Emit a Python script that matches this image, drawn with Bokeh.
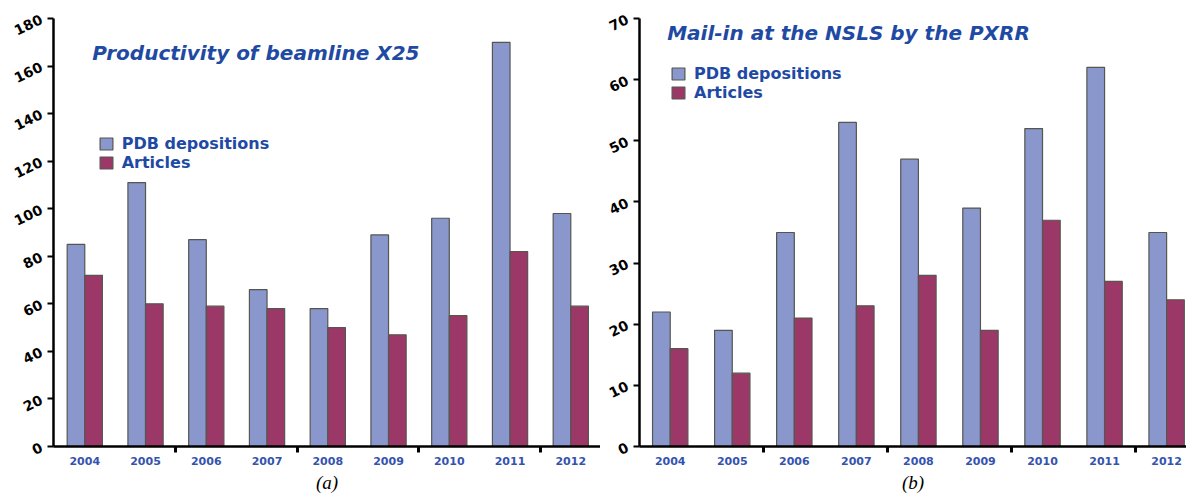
from bokeh.plotting import figure
from bokeh.models import Range1d, FixedTicker, Label, Legend, LegendItem, ColumnDataSource
from bokeh.layouts import row
from bokeh.embed import file_html
from bokeh.resources import INLINE

years = ["2004", "2005", "2006", "2007", "2008", "2009", "2010", "2011", "2012"]
x25_pdb = [85, 111, 87, 66, 58, 89, 96, 170, 98]
x25_articles = [72, 60, 59, 58, 50, 47, 55, 82, 59]
mail_pdb = [22, 19, 35, 53, 47, 39, 52, 62, 35]
mail_articles = [16, 12, 21, 23, 28, 19, 37, 27, 24]
left_yticks = [0, 20, 40, 60, 80, 100, 120, 140, 160, 180]
right_yticks = [0, 10, 20, 30, 40, 50, 60, 70]
series_names = ["PDB depositions", "Articles"]
titles = ["Productivity of beamline X25", "Mail-in at the NSLS by the PXRR"]
captions = ["(a)", "(b)"]

PDB_COLOR = "#8997cc"
ART_COLOR = "#9c3868"
EDGE = "#55564f"
BLUE = "#1f4aa3"
FONT = "DejaVu Sans"


def panel(width, border_left, border_top, border_bottom, x_start, x_end, y_max,
          yticks, pdb, art, bar_w, title, title_xy, legend_xy, caption):
    p = figure(width=width, height=495, output_backend="svg", toolbar_location=None,
               x_range=Range1d(x_start, x_end), y_range=Range1d(0, y_max),
               min_border_left=border_left, min_border_right=0,
               min_border_top=border_top, min_border_bottom=border_bottom)
    p.xgrid.visible = False
    p.ygrid.visible = False
    p.outline_line_color = None
    p.background_fill_color = "white"
    p.border_fill_color = "white"

    idx = list(range(len(years)))
    src = ColumnDataSource(dict(
        xp=[i - bar_w / 2 for i in idx], xa=[i + bar_w / 2 for i in idx],
        pdb=pdb, art=art))
    r1 = p.vbar(x="xp", top="pdb", width=bar_w, source=src, fill_color=PDB_COLOR,
                line_color=EDGE, line_width=1.2)
    r2 = p.vbar(x="xa", top="art", width=bar_w, source=src, fill_color=ART_COLOR,
                line_color=EDGE, line_width=1.2)

    # x axis
    xa = p.xaxis[0]
    xa.ticker = FixedTicker(ticks=idx, minor_ticks=[1.5, 3.5, 5.5, 7.5])
    xa.major_label_overrides = {i: years[i] for i in idx}
    xa.major_tick_out = 0
    xa.major_tick_in = 0
    xa.minor_tick_out = 6
    xa.minor_tick_in = 0
    xa.minor_tick_line_width = 3
    xa.minor_tick_line_color = "black"
    xa.axis_line_width = 2.5
    xa.axis_line_color = "black"
    xa.major_label_standoff = 4
    xa.major_label_text_font = FONT
    xa.major_label_text_font_style = "bold"
    xa.major_label_text_font_size = "11px"
    xa.major_label_text_color = "#3553ae"
    xa.axis_label = caption
    xa.axis_label_standoff = 4
    xa.axis_label_text_font = "Liberation Serif"
    xa.axis_label_text_font_style = "italic"
    xa.axis_label_text_font_size = "19px"
    xa.axis_label_text_color = "black"

    # y axis
    ya = p.yaxis[0]
    ya.ticker = FixedTicker(ticks=yticks)
    ya.major_tick_out = 6
    ya.major_tick_in = 0
    ya.major_tick_line_width = 2
    ya.minor_tick_out = 0
    ya.minor_tick_in = 0
    ya.axis_line_width = 2.5
    ya.axis_line_color = "black"
    ya.major_label_orientation = 0.45
    ya.major_label_standoff = 6
    ya.major_label_text_font = FONT
    ya.major_label_text_font_style = "bold"
    ya.major_label_text_font_size = "14px"
    ya.major_label_text_color = "black"

    p.add_layout(Label(x=title_xy[0], y=title_xy[1], x_units="screen", y_units="screen",
                       text=title, text_font=FONT, text_font_style="bold italic",
                       text_font_size="20px", text_color=BLUE, text_baseline="middle"))

    legend = Legend(items=[LegendItem(label=series_names[0], renderers=[r1]),
                           LegendItem(label=series_names[1], renderers=[r2])],
                    location=legend_xy, glyph_width=16, glyph_height=15,
                    label_height=15, label_standoff=8, spacing=0, padding=0, margin=0,
                    border_line_alpha=0, background_fill_alpha=0,
                    label_text_font=FONT, label_text_font_style="bold",
                    label_text_font_size="16px", label_text_color=BLUE)
    p.add_layout(legend)
    return p


left = panel(600, 53, 18, 48, -0.515, -0.515 + 547 / 60.75, 180, left_yticks,
             x25_pdb, x25_articles, 0.29, titles[0], (38.7, 394), (44.7, 274),
             captions[0])
right = panel(586, 39, 15, 45, -0.495, -0.495 + 547 / 62.05, 70, right_yticks,
              mail_pdb, mail_articles, 0.285, titles[1], (27.7, 414), (31, 344),
              captions[1])

layout = row(left, right)
open("out.html", "w").write(file_html(layout, INLINE))
